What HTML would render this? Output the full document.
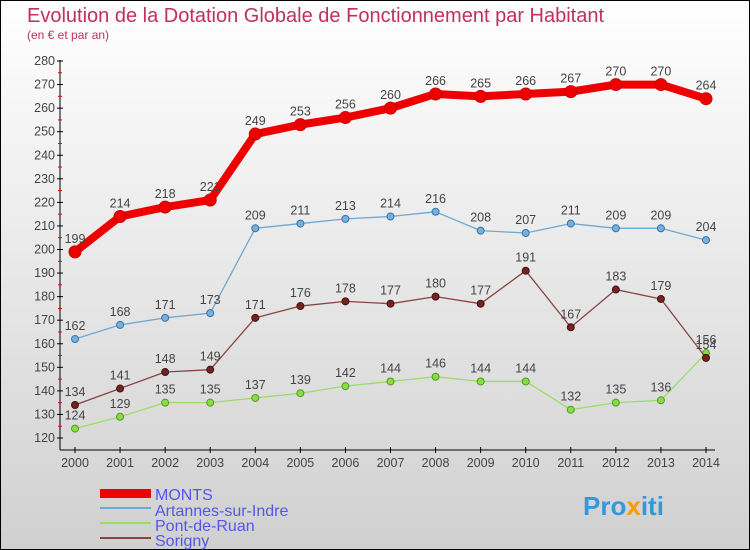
<!DOCTYPE html>
<html><head><meta charset="utf-8"><style>
body{margin:0}
svg{display:block;font-family:"Liberation Sans","DejaVu Sans",sans-serif}
</style></head><body>
<svg id="c" width="750" height="550">
<defs><linearGradient id="bg" x1="0" y1="0" x2="0" y2="1"><stop offset="0" stop-color="#ffffff"/><stop offset="1" stop-color="#d0d0d0"/></linearGradient></defs>
<rect x="0.5" y="0.5" width="749" height="549" fill="url(#bg)" stroke="#000"/>
<text x="27" y="22" font-size="20" fill="#c0305a">Evolution de la Dotation Globale de Fonctionnement par Habitant</text>
<text x="27" y="39" font-size="12" fill="#c0305a">(en € et par an)</text>
<g id="axes"></g><g id="series"></g>
<g>
<rect x="100" y="489" width="51" height="9" fill="#e00"/>
<text x="155" y="500" font-size="16" fill="#5555ee">MONTS</text>
<rect x="100" y="507" width="51" height="2" fill="#6fa8d0"/>
<text x="155" y="516" font-size="16" fill="#5555ee">Artannes-sur-Indre</text>
<rect x="100" y="522" width="51" height="2" fill="#99dd66"/>
<text x="155" y="531" font-size="16" fill="#5555ee">Pont-de-Ruan</text>
<rect x="100" y="537" width="51" height="2" fill="#884444"/>
<text x="155" y="546" font-size="16" fill="#5555ee">Sorigny</text>
</g>
<text x="583" y="515" font-size="26" font-weight="bold" fill="#3399dd">Pro<tspan fill="#ff9900">x</tspan>iti</text>
</svg>
<script>
const years=[2000,2001,2002,2003,2004,2005,2006,2007,2008,2009,2010,2011,2012,2013,2014];
const monts=[199,214,218,221,249,253,256,260,266,265,266,267,270,270,264];
const artannes=[162,168,171,173,209,211,213,214,216,208,207,211,209,209,204];
const pont=[124,129,135,135,137,139,142,144,146,144,144,132,135,136,156];
const sorigny=[134,141,148,149,171,176,178,177,180,177,191,167,183,179,154];
const yTicks=[120,130,140,150,160,170,180,190,200,210,220,230,240,250,260,270,280];
const NS="http://www.w3.org/2000/svg";
const X=i=>75+i*(706-75)/(years.length-1);
const Y=v=>61+(280-v)*(377/160);
function mk(t,a,p){const e=document.createElementNS(NS,t);for(const k in a)e.setAttribute(k,a[k]);p.appendChild(e);return e;}
const ax=document.getElementById('axes'),sr=document.getElementById('series');
let l=mk('line',{x1:60,y1:60,x2:60,y2:450,stroke:'#000'},ax);


l=mk('line',{x1:60,y1:450,x2:715,y2:450,stroke:'#000'},ax);


yTicks.forEach((v,k)=>{
 mk('line',{x1:57,y1:Y(v),x2:63,y2:Y(v),stroke:'#000'},ax);
 if(k<yTicks.length-1)mk('line',{x1:58,y1:Y(v+5),x2:62,y2:Y(v+5),stroke:'#e00'},ax);
 const t=mk('text',{x:55,y:Y(v)+4,'font-size':12.5,'text-anchor':'end',fill:'#444'},ax);
 t.textContent=v;
 
 
});
years.forEach((y,i)=>{
 mk('line',{x1:X(i),y1:447,x2:X(i),y2:453,stroke:'#000'},ax);
 const t=mk('text',{x:X(i),y:467,'font-size':12.5,'text-anchor':'middle',fill:'#444'},ax);
 t.textContent=y;
 
 
});
function series(d,name,col,w,r,dot,dotStroke){
 const g=mk('g',{},sr);
 
 
 const p=mk('polyline',{points:d.map((v,i)=>X(i)+','+Y(v)).join(' '),fill:'none',stroke:col,'stroke-width':w,'stroke-linejoin':'round'},g);
 
 
 d.forEach((v,i)=>{
  const c=mk('circle',{cx:X(i),cy:Y(v),r:r,fill:dot,stroke:dotStroke,'stroke-width':1},g);
  
  
  const t=mk('text',{x:X(i),y:Y(v)-9,'font-size':12.5,'text-anchor':'middle',fill:'#444'},g);
  t.textContent=v;
  
  
 });
}
series(pont,'pont-de-ruan','#99dd66',1.3,3.5,'#88dd44','#559922');
series(sorigny,'sorigny','#884444',1.3,3.5,'#772222','#441111');
series(artannes,'artannes','#6fa8d0',1.3,3.5,'#77b0dd','#3377aa');
series(monts,'monts','#e00',8,6,'#e00','#c00');
</script>
</body></html>
